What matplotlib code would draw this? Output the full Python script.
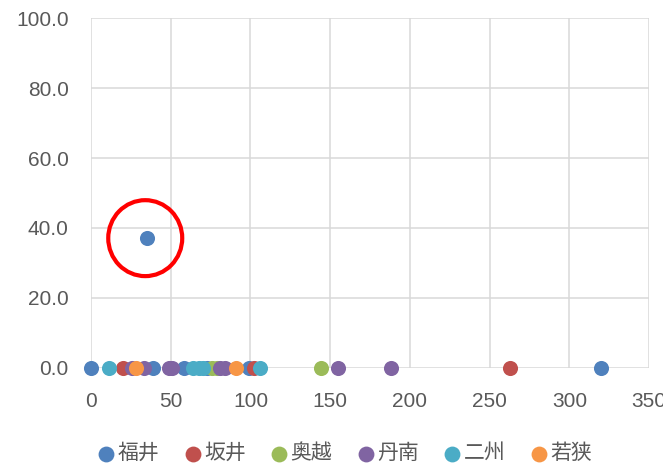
import matplotlib.pyplot as plt
from matplotlib.patches import Ellipse

plt.rcParams['font.family'] = ['Noto Sans CJK JP', 'DejaVu Sans']

# 地区ごとのデータ (x, y)
fukui_x = [0, 39, 58, 73, 99, 320, 35]
fukui_y = [0, 0, 0, 0, 0, 0, 37.1]
sakai_x = [20, 102, 263]
sakai_y = [0, 0, 0]
okuetsu_x = [76, 79, 144]
okuetsu_y = [0, 0, 0]
tannan_x = [26, 33, 49, 51, 81, 84, 155, 188]
tannan_y = [0, 0, 0, 0, 0, 0, 0, 0]
nishu_x = [11, 64, 68, 70, 106]
nishu_y = [0, 0, 0, 0, 0]
wakasa_x = [28, 91]
wakasa_y = [0, 0]

names = ['福井', '坂井', '奥越', '丹南', '二州', '若狭']
colors = ['#4F81BD', '#C0504D', '#9BBB59', '#8064A2', '#4BACC6', '#F79646']
xs = [fukui_x, sakai_x, okuetsu_x, tannan_x, nishu_x, wakasa_x]
ys = [fukui_y, sakai_y, okuetsu_y, tannan_y, nishu_y, wakasa_y]

fig = plt.figure(figsize=(6.63, 4.63), dpi=100)
ax = fig.add_axes([0.1373, 0.2052, 0.8417, 0.7559])

for x, y, c, n in zip(xs, ys, colors, names):
    ax.scatter(x, y, s=118, color=c, label=n, zorder=3, clip_on=False, linewidths=0)

# 外れ値を赤丸で囲む
ax.add_patch(Ellipse((34, 37.1), 46.4, 21.7, fill=False, edgecolor='#FF0000',
                     linewidth=3, zorder=4, clip_on=False))

ax.set_xlim(0, 350)
ax.set_ylim(0, 100)
ax.set_xticks(range(0, 351, 50))
ax.set_yticks(range(0, 101, 20))
ax.set_yticklabels([f'{v:.1f}' for v in range(0, 101, 20)])
ax.grid(True, color='#D9D9D9', linewidth=1.1)
ax.set_axisbelow(True)
for s in ax.spines.values():
    s.set_visible(False)
ax.tick_params(length=0, labelsize=15, colors='#595959')
ax.tick_params(axis='x', pad=17)
ax.tick_params(axis='y', pad=16)
for lab in ax.get_xticklabels() + ax.get_yticklabels():
    lab.set_fontfamily(['Liberation Sans', 'DejaVu Sans'])

leg = ax.legend(loc='center', bbox_to_anchor=(0.455, -0.243), ncol=6,
                frameon=False, fontsize=15, handletextpad=0.15,
                columnspacing=1.2, markerscale=1.05, handlelength=0.8)
for t in leg.get_texts():
    t.set_color('#595959')

fig.savefig('out.png', dpi=100)
